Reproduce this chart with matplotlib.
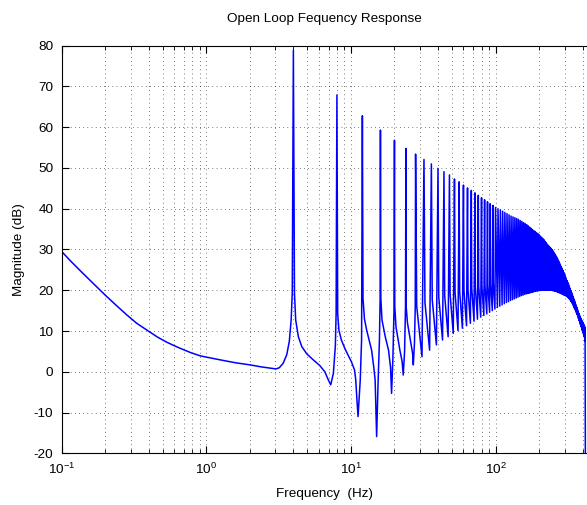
import matplotlib
matplotlib.use("Agg")
import matplotlib.pyplot as plt

plt.rcParams['font.family'] = ['Liberation Sans', 'DejaVu Sans']
plt.rcParams['mathtext.fontset'] = 'custom'
plt.rcParams['mathtext.rm'] = 'Liberation Sans'
plt.rcParams['axes.unicode_minus'] = False

# curve up to the 7th resonance, read point by point (Hz, dB)
low_hz = [0.1, 0.115, 0.137, 0.165, 0.2, 0.24, 0.281, 0.33, 0.397, 0.46, 0.53,
          0.6, 0.676, 0.78, 0.91, 1.0, 1.3, 1.6, 2.0, 2.4, 2.76, 3.03,
          3.2, 3.4, 3.6, 3.75, 3.86, 3.93, 4.0,
          4.07, 4.15, 4.33, 4.57, 4.95, 5.5, 6.1, 6.6, 6.98, 7.25,
          7.56, 7.8, 7.9, 8.0,
          8.1, 8.26, 8.59, 9.06, 9.55, 10.07, 10.6, 10.8, 10.97, 11.2,
          11.6, 11.85, 12.0,
          12.12, 12.4, 12.85, 13.9, 14.4, 14.7, 15.06, 15.4, 15.75, 15.92, 16.0,
          16.1, 16.4, 17.3, 18.2, 18.8, 19.1, 19.5, 19.85, 20.0,
          20.1, 20.5, 21.8, 22.6, 23.0, 23.5, 23.85, 24.0,
          24.1, 24.6, 26.0, 26.7, 27.0, 27.5, 27.85]
low_db = [29.5, 27.2, 24.5, 21.7, 18.8, 16.2, 14.0, 11.9, 10.0, 8.5, 7.3,
          6.4, 5.6, 4.7, 3.9, 3.6, 2.8, 2.2, 1.7, 1.2, 0.9, 0.7,
          1.0, 2.1, 4.2, 7.5, 12.7, 19.3, 78.9,
          19.3, 12.7, 8.6, 6.2, 4.4, 2.9, 1.5, 0.0, -2.0, -3.2,
          -0.4, 6.2, 14.3, 67.9,
          14.3, 10.2, 7.8, 5.8, 4.1, 2.5, 0.4, -2.0, -6.1, -11.0,
          -2.0, 7.8, 62.8,
          18.0, 13.0, 10.2, 5.3, 1.0, -2.0, -15.9, -3.0, 8.0, 18.0, 59.3,
          18.0, 12.7, 8.5, 5.3, 1.0, -5.3, 3.0, 15.0, 56.8,
          16.0, 11.0, 5.3, 2.5, -0.8, 5.0, 16.0, 54.8,
          16.0, 12.0, 7.0, 4.5, 1.7, 7.0, 16.0]

# resonances from 28 Hz up: peak, then the dip before the next peak
peak_hz = [28, 32, 36, 40, 44, 48, 52, 56, 60, 64, 68, 72, 76, 80,
           84, 88, 92, 96, 100, 104, 108, 112, 116, 120, 124, 128, 132, 136,
           140, 144, 148, 152, 156, 160, 164, 168, 172, 176, 180, 184, 188, 192,
           196, 200, 204, 208, 212, 216, 220, 224, 228, 232, 236, 240, 244, 248,
           252, 256, 260, 264, 268, 272, 276, 280, 284, 288, 292, 296, 300, 304,
           308, 312, 316, 320, 324, 328, 332, 336, 340, 344, 348, 352, 356, 360,
           364, 368, 372, 376, 380, 384, 388, 392, 396, 400, 404, 408, 412, 416]
peak_db = [53.4, 52.1, 51.0, 49.9, 49.1, 48.3, 47.3, 46.6, 45.8, 45.1, 44.5, 43.9, 43.3, 42.7,
           42.2, 41.7, 41.2, 40.8, 40.3, 40.0, 39.7, 39.4, 39.1, 38.8, 38.5, 38.2, 38.0, 37.8,
           37.6, 37.4, 37.1, 36.9, 36.6, 36.4, 36.1, 35.8, 35.5, 35.2, 34.9, 34.6, 34.4, 34.1,
           33.9, 33.6, 33.3, 33.0, 32.7, 32.4, 32.0, 31.7, 31.3, 31.0, 30.7, 30.4, 30.1, 29.8,
           29.4, 29.0, 28.6, 28.2, 27.8, 27.3, 26.9, 26.4, 25.9, 25.4, 24.9, 24.4, 23.9, 23.4,
           22.9, 22.4, 21.9, 21.4, 20.9, 20.4, 19.9, 19.4, 18.9, 18.4, 17.9, 17.4, 16.9, 16.4,
           15.9, 15.4, 14.9, 14.4, 14.0, 13.6, 13.2, 12.8, 12.5, 12.2, 11.9, 11.6, 11.2, 10.8]
dip_hz = [31, 35, 39, 43, 47, 51, 55, 59, 63, 67, 71, 75, 79, 83,
          87, 91, 95, 99, 103, 107, 111, 115, 119, 123, 127, 131, 135, 139,
          143, 147, 151, 155, 159, 163, 167, 171, 175, 179, 183, 187, 191, 195,
          199, 203, 207, 211, 215, 219, 223, 227, 231, 235, 239, 243, 247, 251,
          255, 259, 263, 267, 271, 275, 279, 283, 287, 291, 295, 299, 303, 307,
          311, 315, 319, 323, 327, 331, 335, 339, 343, 347, 351, 355, 359, 363,
          367, 371, 375, 379, 383, 387, 391, 395, 399, 403, 407, 411, 415, 419]
dip_db = [3.7, 5.3, 6.6, 7.8, 8.6, 9.4, 10.1, 10.7, 11.3, 11.9, 12.4, 12.9, 13.4, 13.8,
          14.2, 14.6, 15.0, 15.4, 15.8, 16.1, 16.4, 16.7, 17.0, 17.2, 17.5, 17.7, 17.9, 18.1,
          18.3, 18.5, 18.7, 18.8, 19.0, 19.1, 19.2, 19.3, 19.4, 19.5, 19.6, 19.7, 19.8, 19.8,
          19.9, 19.9, 20.0, 20.0, 20.0, 20.0, 20.0, 20.0, 20.0, 20.0, 20.0, 20.0, 19.9, 19.9,
          19.8, 19.8, 19.7, 19.6, 19.5, 19.4, 19.3, 19.2, 19.1, 19.0, 18.9, 18.8, 18.7, 18.6,
          18.5, 18.3, 18.1, 17.9, 17.7, 17.4, 17.1, 16.8, 16.4, 16.0, 15.6, 15.2, 14.8, 14.4,
          14.0, 13.5, 13.0, 12.5, 12.0, 11.5, 11.0, 10.5, 10.0, 9.5, 9.0, 8.5, 7.5, -40.0]
# level just after the peak (only where the shape is visible)
knee_db = [16.1, 17.0, 17.7, 18.3, 18.7, 19.1, 19.4, 19.7, 19.9,
           20.2, 20.4, 20.7, 20.9, 21.0, 21.2, 21.4, 21.6, 21.8]
KNEE_STEP = 0.5

freq = list(low_hz)
mag = list(low_db)
for i in range(len(peak_hz)):
    freq.append(peak_hz[i])
    mag.append(peak_db[i])
    if i < len(knee_db):
        freq.append(peak_hz[i] + KNEE_STEP)
        mag.append(knee_db[i])
    freq.append(dip_hz[i])
    mag.append(dip_db[i])

fig = plt.figure(figsize=(5.87, 5.05), dpi=100)
ax = fig.add_axes([61.7 / 587, 51.7 / 505, 525.3 / 587, 407.6 / 505])

ax.semilogx(freq, mag, color='#0000ff', lw=1.1)

ax.set_xlim(0.1, 429)
ax.set_ylim(-20, 80)
ax.set_yticks(range(-20, 81, 10))

ax.grid(True, which='both', color='k', lw=0.5, linestyle=(0, (1, 5)))
ax.tick_params(which='both', direction='in', top=True, right=False,
               labelsize=9.7, colors='k')
ax.tick_params(which='major', length=5, pad=6)
ax.tick_params(which='minor', length=3)
for s in ['left', 'bottom', 'top']:
    ax.spines[s].set_linewidth(0.8)
ax.spines['right'].set_visible(False)

ax.set_title('Open Loop Fequency Response', fontsize=9.7, pad=17)
ax.set_xlabel('Frequency  (Hz)', fontsize=9.7, labelpad=8)
ax.set_ylabel('Magnitude (dB)', fontsize=9.7, labelpad=6)

fig.savefig('out.png', dpi=100)
